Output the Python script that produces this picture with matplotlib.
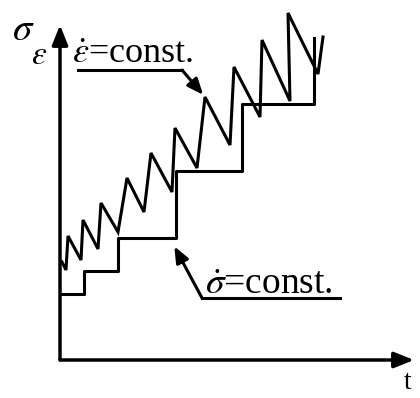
import matplotlib
matplotlib.use("Agg")
import matplotlib.pyplot as plt

plt.rcParams["font.family"] = ["Liberation Serif", "DejaVu Serif"]
plt.rcParams["mathtext.fontset"] = "stix"

# strain-controlled response: sawtooth (time, stress)
saw_t = [2, 6, 8, 21, 23, 38, 41, 58, 67, 84, 91, 112, 115, 137, 145, 170,
         174, 200, 202, 230, 228, 258, 263]
saw_v = [98, 90, 124, 100, 140, 111, 157, 128, 182, 148, 207, 168, 232, 192,
         263, 215, 293, 243, 320, 259, 347, 286, 323]

# stress-controlled response: staircase (step times, levels)
step_t = [0, 24, 58, 116, 182, 254, 254]
step_v = [66, 89, 122, 189, 256, 322, 322]

LW = 2.2
fig = plt.figure(figsize=(4.2, 3.98), dpi=100)
ax = fig.add_axes([0, 0, 1, 1])
ax.set_xlim(-60, 360)
ax.set_ylim(-38, 360)
ax.axis("off")

# axes with arrow heads
axis_arrow = dict(arrowstyle="-|>,head_length=0.7,head_width=0.28",
                  mutation_scale=17, lw=LW + 0.3, color="black",
                  shrinkA=0, shrinkB=0)
ax.annotate("", xy=(354, 0), xytext=(0, 0), arrowprops=axis_arrow)
ax.annotate("", xy=(0, 335), xytext=(0, 0), arrowprops=axis_arrow)

ax.plot(saw_t, saw_v, color="black", lw=LW, solid_joinstyle="miter")
ax.step(step_t, step_v, where="post", color="black", lw=LW)

lead_arrow = dict(arrowstyle="-|>,head_length=0.6,head_width=0.25",
                  mutation_scale=16, lw=LW, color="black",
                  shrinkA=0, shrinkB=2)

# upper label with underline and leader to a sawtooth peak
ax.text(12, 297, r"$\dot{\epsilon}$=const.", fontsize=26, va="baseline")
ax.plot([18, 122], [290, 290], color="black", lw=LW)
ax.annotate("", xy=(saw_t[14], saw_v[14]), xytext=(122, 290),
            arrowprops=lead_arrow)

# lower label with underline and leader to a step corner
ax.text(145, 66, r"$\dot{\sigma}$=const.", fontsize=27, va="baseline")
ax.plot([142, 280], [62, 62], color="black", lw=LW)
ax.annotate("", xy=(step_t[3] - 3, step_v[2] - 6), xytext=(142, 62),
            arrowprops=lead_arrow)

ax.text(-48, 330, r"$\sigma$", fontsize=28, va="center", ha="left")
ax.text(-29, 304, r"$\epsilon$", fontsize=24, va="center", ha="left")
ax.text(344, -29, "t", fontsize=20, va="baseline", ha="left")

fig.savefig("out.png", dpi=100)
